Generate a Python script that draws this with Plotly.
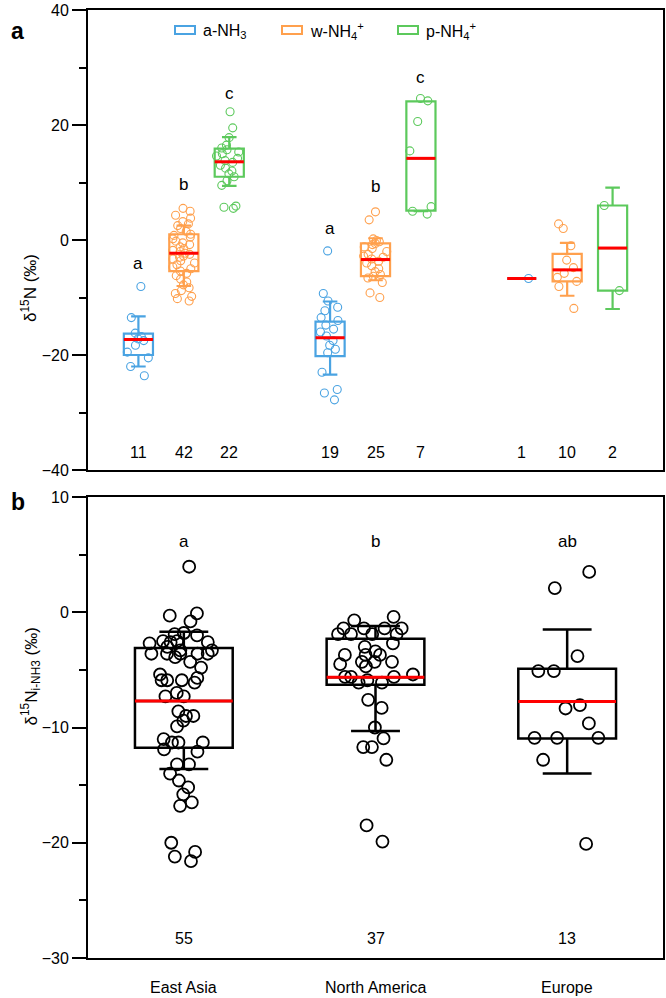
import plotly.graph_objects as go

# ---- data -------------------------------------------------------------
REGIONS = ["East Asia", "North America", "Europe"]
SERIES = ["a-NH<sub>3</sub>", "w-NH<sub>4</sub><sup>+</sup>", "p-NH<sub>4</sub><sup>+</sup>"]
SERIES_COLORS = ["#4aa3e2", "#ffa04d", "#5cc95c"]

# panel a: raw points, one list per series and region
a_nh3_east_asia = [-8.1, -13.5, -16.2, -16.8, -17.2, -17.5, -18.3, -19.5, -20.5, -22.0, -23.6]
a_nh3_north_america = [-1.9, -9.3, -10.6, -11.7, -12.3, -13.5, -14.0, -14.8, -15.5, -16.0,
                       -16.7, -17.5, -18.3, -19.0, -19.6, -23.0, -26.0, -26.6, -27.8]
a_nh3_europe = [-6.7]

w_nh4_east_asia = [5.5, 5.0, 4.3, 3.8, 3.2, 2.8, 2.5, 2.0, 1.5, 1.0, 0.8, 0.5, 0.2, -0.2,
                   -0.5, -0.8, -1.2, -1.5, -1.8, -2.0, -2.3, -2.5, -2.8, -3.0, -3.3, -3.6,
                   -4.0, -4.3, -4.7, -5.0, -5.4, -5.8, -6.2, -6.8, -7.3, -7.8, -8.3, -8.8,
                   -9.3, -9.8, -10.2, -10.6]
w_nh4_north_america = [4.9, 3.5, 0.2, -0.1, -0.3, -0.6, -0.8, -1.2, -1.5, -2.0, -2.5, -2.8,
                       -3.0, -3.3, -3.7, -4.0, -4.5, -5.0, -5.5, -6.0, -6.3, -6.6, -7.4,
                       -9.2, -10.0]
w_nh4_europe = [2.8, 2.0, -1.0, -3.5, -4.8, -5.8, -6.5, -7.2, -8.1, -11.9]

p_nh4_east_asia = [22.3, 19.5, 17.8, 16.5, 16.0, 15.7, 15.3, 15.0, 14.6, 14.2, 13.8, 13.5,
                   13.0, 12.5, 12.0, 11.5, 11.0, 10.3, 9.5, 5.9, 5.7, 5.5]
p_nh4_north_america = [24.6, 24.2, 20.6, 15.5, 5.8, 5.0, 4.5]
p_nh4_europe = [6.0, -8.8]

# panel a: box statistics per series (East Asia, North America, Europe)
a_nh3_q1 = [-20.0, -20.2, -6.7]
a_nh3_q3 = [-16.3, -14.2, -6.7]
a_nh3_mean = [-17.3, -17.0, -6.7]
a_nh3_low = [-22.0, -23.4, -6.7]
a_nh3_high = [-13.3, -10.7, -6.7]

w_nh4_q1 = [-5.4, -6.3, -7.2]
w_nh4_q3 = [1.0, -0.6, -2.4]
w_nh4_mean = [-2.3, -3.4, -5.2]
w_nh4_low = [-8.0, -7.0, -9.7]
w_nh4_high = [2.5, 0.3, -0.5]

p_nh4_q1 = [11.0, 5.1, -8.8]
p_nh4_q3 = [15.9, 24.1, 6.0]
p_nh4_mean = [13.6, 14.2, -1.4]
p_nh4_low = [9.4, 5.0, -12.0]
p_nh4_high = [17.9, 23.3, 9.1]

a_letters = [["a", "b", "c"], ["a", "b", "c"], ["", "", ""]]
a_letter_y = [[-4.0, 9.6, 25.5], [2.0, 9.3, 28.2], [0, 0, 0]]

# panel b: inferred delta15N of NH3
b_east_asia = [3.95, -0.1, -0.3, -0.8, -1.8, -1.9, -2.0, -2.5, -2.5, -2.6, -2.6, -2.7, -3.0,
               -3.3, -3.3, -3.6, -3.6, -3.6, -3.6, -3.6, -3.9, -4.3, -4.8, -5.4, -5.7, -5.9,
               -5.9, -5.9, -6.1, -7.0, -7.3, -7.3, -8.6, -9.0, -9.0, -9.4, -9.9, -11.0,
               -11.3, -11.3, -11.3, -11.9, -12.1, -13.2, -13.2, -14.0, -14.6, -15.2, -15.8,
               -16.5, -16.8, -20.0, -20.8, -21.2, -21.6]
b_north_america = [-0.4, -0.7, -1.4, -1.4, -1.4, -1.4, -1.9, -1.9, -1.9, -1.9, -2.7, -3.0,
                   -3.4, -3.7, -3.7, -3.7, -4.3, -4.3, -4.3, -4.5, -4.7, -5.4, -5.6, -5.6,
                   -5.6, -5.9, -6.1, -6.1, -7.6, -8.3, -10.0, -10.95, -11.7, -11.7, -12.8,
                   -18.5, -19.9]
b_europe = [3.5, 2.1, -3.8, -5.1, -5.1, -8.05, -8.35, -9.65, -10.9, -10.9, -10.9, -12.8, -20.1]

b_q1 = [-11.75, -6.3, -10.95]
b_q3 = [-3.1, -2.3, -4.9]
b_mean = [-7.7, -5.65, -7.75]
b_low = [-13.6, -10.3, -14.0]
b_high = [-1.7, -1.2, -1.5]
b_letters = ["a", "b", "ab"]
b_letter_y = [6.1, 6.1, 6.1]

FONT = "Arial, Liberation Sans, sans-serif"
RED = "#ff0000"

W, H = 666, 998
PLOT_L, PLOT_R, PLOT_T, PLOT_B = 88, 663, 10, 958  # pixels of the plotting area
M_L, M_R, M_T, M_B = PLOT_L, W - PLOT_R, PLOT_T, H - PLOT_B


def px_x(px):
    # pixel column -> paper x
    return (px - PLOT_L) / (PLOT_R - PLOT_L)


def px_y(py):
    # pixel row -> paper y
    return (PLOT_B - py) / (PLOT_B - PLOT_T)


series_points = [
    [a_nh3_east_asia, a_nh3_north_america, a_nh3_europe],
    [w_nh4_east_asia, w_nh4_north_america, w_nh4_europe],
    [p_nh4_east_asia, p_nh4_north_america, p_nh4_europe],
]
series_stats = [
    (a_nh3_q1, a_nh3_mean, a_nh3_q3, a_nh3_low, a_nh3_high),
    (w_nh4_q1, w_nh4_mean, w_nh4_q3, w_nh4_low, w_nh4_high),
    (p_nh4_q1, p_nh4_mean, p_nh4_q3, p_nh4_low, p_nh4_high),
]
b_points = [b_east_asia, b_north_america, b_europe]

SERIES_OFFSET = [-0.237, 0.0, 0.237]
WIDTH_A = 0.152
WIDTH_B = 0.51

fig = go.Figure()

# ---- panel a --------------------------------------------------------------
for s, (name, color) in enumerate(zip(SERIES, SERIES_COLORS)):
    xs = [g + SERIES_OFFSET[s] for g in range(len(REGIONS))]
    for g, vals in enumerate(series_points[s]):
        fig.add_trace(go.Box(
            x=[xs[g]] * len(vals), y=vals, boxpoints="all", jitter=0.9, pointpos=0,
            width=WIDTH_A, line=dict(color="rgba(0,0,0,0)", width=0),
            fillcolor="rgba(0,0,0,0)",
            marker=dict(symbol="circle-open", color=color, size=8, line=dict(width=1.1)),
            showlegend=False, hoverinfo="y", xaxis="x", yaxis="y",
        ))
    q1, mean, q3, low, high = series_stats[s]
    fig.add_trace(go.Box(
        x=xs, q1=q1, median=mean, q3=q3, lowerfence=low, upperfence=high,
        name=name, width=WIDTH_A, whiskerwidth=0.5, boxpoints=False, showlegend=False,
        line=dict(color=color, width=2.2), fillcolor="rgba(0,0,0,0)",
        xaxis="x", yaxis="y",
    ))
    mx, my = [], []
    for x, m in zip(xs, mean):
        mx += [x - WIDTH_A / 2, x + WIDTH_A / 2, None]
        my += [m, m, None]
    fig.add_trace(go.Scatter(x=mx, y=my, mode="lines", line=dict(color=RED, width=3),
                             showlegend=False, hoverinfo="skip", xaxis="x", yaxis="y"))

annotations = []
for g in range(len(REGIONS)):
    for s in range(len(SERIES)):
        x = g + SERIES_OFFSET[s]
        annotations.append(dict(x=x, y=-37, xref="x", yref="y",
                                text=str(len(series_points[s][g])), showarrow=False,
                                font=dict(size=16)))
        if a_letters[g][s]:
            annotations.append(dict(x=x, y=a_letter_y[g][s], xref="x", yref="y",
                                    text=a_letters[g][s], showarrow=False,
                                    font=dict(size=17)))

# hand-drawn legend (wide outlined rectangles like the original)
shapes = []
legend_left_px = [175, 282, 398]
for name, color, lx in zip(SERIES, SERIES_COLORS, legend_left_px):
    shapes.append(dict(type="rect", xref="paper", yref="paper",
                       x0=px_x(lx), x1=px_x(lx + 20), y0=px_y(34), y1=px_y(26),
                       line=dict(color=color, width=2), fillcolor="rgba(0,0,0,0)"))
    annotations.append(dict(x=px_x(lx + 26), y=px_y(31), xref="paper", yref="paper",
                            text=name, xanchor="left", yanchor="middle",
                            showarrow=False, font=dict(size=16)))

# ---- panel b --------------------------------------------------------------
for g, vals in enumerate(b_points):
    fig.add_trace(go.Box(
        x=[g] * len(vals), y=vals, boxpoints="all", jitter=0.9, pointpos=0,
        width=WIDTH_B, line=dict(color="rgba(0,0,0,0)", width=0),
        fillcolor="rgba(0,0,0,0)",
        marker=dict(symbol="circle-open", color="black", size=12, line=dict(width=1.8)),
        showlegend=False, hoverinfo="y", xaxis="x2", yaxis="y2",
    ))
bx = list(range(len(REGIONS)))
fig.add_trace(go.Box(
    x=bx, q1=b_q1, median=b_mean, q3=b_q3, lowerfence=b_low, upperfence=b_high,
    width=WIDTH_B, whiskerwidth=0.5, boxpoints=False, showlegend=False,
    line=dict(color="black", width=2.5), fillcolor="rgba(0,0,0,0)",
    xaxis="x2", yaxis="y2",
))
mx, my = [], []
for x, m in zip(bx, b_mean):
    mx += [x - WIDTH_B / 2, x + WIDTH_B / 2, None]
    my += [m, m, None]
fig.add_trace(go.Scatter(x=mx, y=my, mode="lines", line=dict(color=RED, width=3),
                         showlegend=False, hoverinfo="skip", xaxis="x2", yaxis="y2"))

for g in range(len(REGIONS)):
    annotations.append(dict(x=g, y=-28.3, xref="x2", yref="y2", text=str(len(b_points[g])),
                            showarrow=False, font=dict(size=16)))
    annotations.append(dict(x=g, y=b_letter_y[g], xref="x2", yref="y2", text=b_letters[g],
                            showarrow=False, font=dict(size=17)))
    # category names under panel b
    annotations.append(dict(x=g, y=px_y(987), xref="x2", yref="paper", text=REGIONS[g],
                            yanchor="middle", showarrow=False, font=dict(size=16)))

# axis titles and panel letters
annotations += [
    dict(x=px_x(16), y=px_y(252), xref="paper", yref="paper", text="δ<sup>15</sup>N (‰)",
         textangle=-90, showarrow=False, font=dict(size=17)),
    dict(x=px_x(16), y=px_y(728), xref="paper", yref="paper",
         text="δ<sup>15</sup>N<sub>i-NH3</sub> (‰)",
         textangle=-90, showarrow=False, font=dict(size=17)),
    dict(x=px_x(9), y=px_y(16), xref="paper", yref="paper", text="<b>a</b>",
         showarrow=False, font=dict(size=23)),
    dict(x=px_x(9), y=px_y(502), xref="paper", yref="paper", text="<b>b</b>",
         showarrow=False, font=dict(size=23)),
]

axis_common = dict(showline=True, linecolor="black", linewidth=2, mirror=True,
                   showgrid=False, zeroline=False)
yaxis_common = dict(axis_common, ticks="outside", ticklen=14, tickwidth=2,
                    tickcolor="black", tickfont=dict(size=16))

fig.update_layout(
    width=W, height=H,
    margin=dict(l=M_L, r=M_R, t=M_T, b=M_B, autoexpand=False),
    paper_bgcolor="white", plot_bgcolor="white",
    font=dict(family=FONT, color="black", size=16),
    boxmode="overlay",
    showlegend=False,
    xaxis=dict(axis_common, domain=[0, 1], range=[-0.5, 2.5], showticklabels=False,
               ticks="", anchor="y"),
    yaxis=dict(yaxis_common, domain=[px_y(470), 1], range=[-40, 40], dtick=20,
               tick0=0, anchor="x",
               minor=dict(dtick=10, ticks="outside", ticklen=7, tickwidth=2,
                          tickcolor="black")),
    xaxis2=dict(axis_common, domain=[0, 1], range=[-0.5, 2.5], showticklabels=False,
                ticks="", anchor="y2"),
    yaxis2=dict(yaxis_common, domain=[0, px_y(497)], range=[-30, 10], dtick=10,
                tick0=0, anchor="x2",
                minor=dict(dtick=5, ticks="outside", ticklen=7, tickwidth=2,
                           tickcolor="black")),
    annotations=annotations,
    shapes=shapes,
)

# drop the browser's default 8px body margin so the figure sits at the page corner
fig.write_html("out.html", config={"displayModeBar": False},
               post_script="document.body.style.margin = '0';")
